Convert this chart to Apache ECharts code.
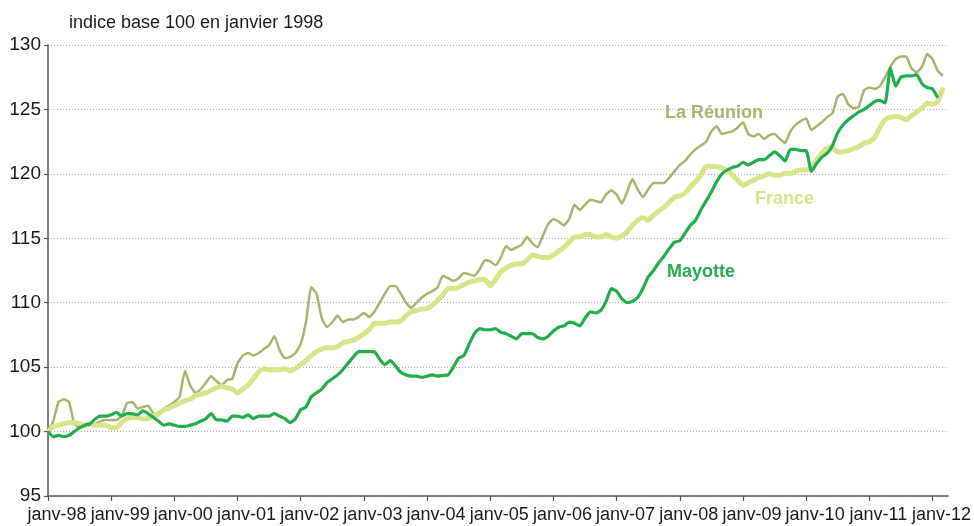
<!DOCTYPE html>
<html>
<head>
<meta charset="utf-8">
<script src="https://cdn.jsdelivr.net/npm/echarts@6/dist/echarts.min.js"></script>
<style>
html,body{margin:0;padding:0;background:#fff;}
#chart{width:974px;height:526px;}
</style>
</head>
<body>
<div id="chart"></div>
<script>
// Monthly index, base 100 = janvier 1998, from janv-98 (index 0) to mars-12 (index 170)
const reunion = [
100.0,100.8,102.3,102.5,102.3,100.6,100.3,100.4,100.5,100.6,100.8,100.9,
100.9,100.9,101.2,102.2,102.3,101.8,101.9,102.0,101.4,101.3,101.8,102.0,
102.3,102.7,104.7,103.6,103.0,103.3,103.8,104.3,103.9,103.6,104.0,104.1,
105.3,105.9,106.1,105.9,106.1,106.4,106.7,107.4,106.3,105.7,105.8,106.1,
106.8,108.5,111.2,110.7,108.8,108.1,108.5,109.0,108.5,108.7,108.7,108.9,
109.2,108.9,109.3,110.0,110.7,111.3,111.3,110.7,110.0,109.6,110.0,110.4,
110.7,110.9,111.2,112.1,111.9,111.7,111.9,112.3,112.2,112.1,112.6,113.3,
113.2,112.9,113.5,114.4,114.1,114.3,114.5,115.1,114.6,114.3,115.2,116.1,
116.5,116.3,116.0,116.5,117.6,117.2,117.6,118.0,117.9,117.8,118.4,118.7,
118.4,117.7,118.6,119.6,118.8,118.2,118.8,119.3,119.3,119.3,119.7,120.2,
120.7,121.0,121.5,121.9,122.2,122.5,123.3,123.7,123.1,123.2,123.3,123.6,
124.0,123.1,122.9,123.1,122.7,123.0,123.1,122.7,122.4,123.3,123.8,124.1,
124.3,123.4,123.7,124.0,124.4,124.7,126.0,126.2,125.4,125.1,125.2,126.5,
126.7,126.6,126.8,127.5,128.3,128.9,129.1,129.1,128.2,127.9,128.3,129.3,
128.9,128.0,127.6
];
const france = [
100.0,100.4,100.5,100.6,100.7,100.7,100.6,100.5,100.6,100.5,100.5,100.5,
100.3,100.3,100.7,101.0,101.1,101.1,101.0,101.0,101.2,101.4,101.7,101.8,
102.0,102.2,102.4,102.5,102.8,102.9,103.0,103.2,103.4,103.5,103.4,103.3,
103.0,103.3,103.6,104.1,104.6,104.9,104.8,104.8,104.8,104.9,104.7,104.9,
105.2,105.5,105.9,106.2,106.4,106.5,106.5,106.6,106.9,107.0,107.1,107.3,
107.6,107.9,108.4,108.4,108.4,108.5,108.5,108.6,109.0,109.3,109.4,109.5,
109.55,109.8,110.2,110.6,111.1,111.1,111.2,111.4,111.6,111.7,111.8,111.8,
111.3,111.8,112.4,112.7,112.9,113.0,113.0,113.3,113.7,113.6,113.5,113.5,
113.7,114.0,114.3,114.7,115.1,115.1,115.3,115.3,115.1,115.1,115.3,115.1,
115.0,115.2,115.5,116.0,116.4,116.6,116.4,116.8,117.1,117.4,117.8,118.2,
118.3,118.5,119.0,119.4,119.9,120.6,120.6,120.55,120.45,120.3,119.9,119.5,
119.1,119.3,119.5,119.7,119.85,120.0,119.9,119.9,120.05,120.0,120.2,120.3,
120.3,120.5,121.1,121.6,122.0,122.0,121.7,121.7,121.8,121.95,122.1,122.4,
122.5,122.8,123.6,124.2,124.4,124.45,124.4,124.2,124.5,124.8,125.1,125.5,
125.4,125.6,126.7
];
const mayotte = [
100.0,99.6,99.7,99.6,99.7,100.0,100.3,100.5,100.6,101.0,101.2,101.2,
101.3,101.5,101.2,101.4,101.4,101.3,101.6,101.4,101.1,100.8,100.5,100.6,
100.5,100.4,100.4,100.5,100.6,100.8,101.0,101.4,100.9,100.9,100.8,101.2,
101.2,101.1,101.3,101.0,101.2,101.2,101.2,101.4,101.2,101.0,100.7,101.0,
101.7,101.9,102.7,103.0,103.3,103.8,104.1,104.4,104.8,105.3,105.8,106.2,
106.2,106.2,106.2,105.6,105.2,105.5,105.1,104.6,104.4,104.3,104.3,104.2,
104.3,104.4,104.3,104.35,104.4,105.0,105.7,105.9,106.8,107.6,108.0,107.9,
107.9,108.0,107.7,107.6,107.4,107.2,107.6,107.6,107.6,107.3,107.2,107.4,
107.8,108.1,108.2,108.5,108.4,108.2,108.8,109.3,109.2,109.4,110.1,111.1,
110.9,110.3,110.0,110.1,110.4,111.1,112.0,112.5,113.1,113.6,114.2,114.7,
114.8,115.4,116.0,116.4,117.2,117.9,118.6,119.4,120.0,120.3,120.5,120.6,
120.9,120.7,120.9,121.1,121.1,121.4,121.7,121.4,121.0,121.9,121.9,121.8,
121.8,120.2,120.8,121.3,121.6,122.2,123.2,123.8,124.2,124.5,124.8,125.0,
125.3,125.6,125.7,125.5,128.2,126.8,127.5,127.6,127.6,127.7,127.0,126.7,
126.6,125.9,null
];
const yearLabels = ['janv-98','janv-99','janv-00','janv-01','janv-02','janv-03','janv-04',
  'janv-05','janv-06','janv-07','janv-08','janv-09','janv-10','janv-11','janv-12'];
const seriesNames = ['La Réunion','France','Mayotte'];
const titleText = 'indice base 100 en janvier 1998';

const yearTicks = yearLabels.map((_, i) => i * 12);
const toPairs = arr => arr.map((v, i) => [i, v]);

const chart = echarts.init(document.getElementById('chart'), null, {renderer: 'canvas'});
const baseFont = "'Liberation Sans', Arial, sans-serif";

chart.setOption({
  animation: false,
  backgroundColor: '#ffffff',
  grid: {left: 48, right: 24, top: 45, bottom: 30, containLabel: false},
  xAxis: {
    type: 'value',
    min: 0, max: 171,
    axisLine: {show: true, lineStyle: {color: '#555', width: 1.5}},
    axisTick: {show: true, length: 5, customValues: yearTicks, lineStyle: {color: '#555', width: 1.2}},
    axisLabel: {
      customValues: yearTicks,
      formatter: v => yearLabels[Math.round(v / 12)] || '',
      color: '#1a1a1a', fontSize: 18, fontFamily: baseFont,
      margin: 10, padding: [0, 0, 0, 18], showMaxLabel: true, showMinLabel: true
    },
    splitLine: {show: false}
  },
  yAxis: {
    type: 'value',
    min: 95, max: 130, interval: 5,
    axisLine: {show: true, lineStyle: {color: '#555', width: 1.5}},
    axisTick: {show: true, length: 4, lineStyle: {color: '#555', width: 1.2}},
    axisLabel: {color: '#1a1a1a', fontSize: 19, fontFamily: baseFont, margin: 7},
    splitLine: {show: true, lineStyle: {color: '#aaaaaa', type: [1, 2], width: 1}}
  },
  series: [
    {
      name: seriesNames[0], type: 'line', data: toPairs(reunion), showSymbol: false, smooth: 0.15,
      lineStyle: {color: '#a9b46e', width: 2.5}, z: 2
    },
    {
      name: seriesNames[1], type: 'line', data: toPairs(france), showSymbol: false, smooth: 0.15,
      lineStyle: {color: '#d6e48a', width: 5}, z: 3
    },
    {
      name: seriesNames[2], type: 'line', data: toPairs(mayotte), showSymbol: false, smooth: 0.15,
      lineStyle: {color: '#22ae4c', width: 3.2}, z: 4
    }
  ],
  graphic: [
    {type: 'text', left: 69, top: 14, style: {text: titleText, fill: '#1a1a1a', font: "18px " + baseFont}},
    {type: 'text', left: 665, top: 104, style: {text: seriesNames[0], fill: '#a9b46e', font: "bold 18px " + baseFont}},
    {type: 'text', left: 755, top: 190, style: {text: seriesNames[1], fill: '#d6e48a', font: "bold 18px " + baseFont}},
    {type: 'text', left: 667, top: 263, style: {text: seriesNames[2], fill: '#22ae4c', font: "bold 18px " + baseFont}}
  ]
});
</script>
</body>
</html>
